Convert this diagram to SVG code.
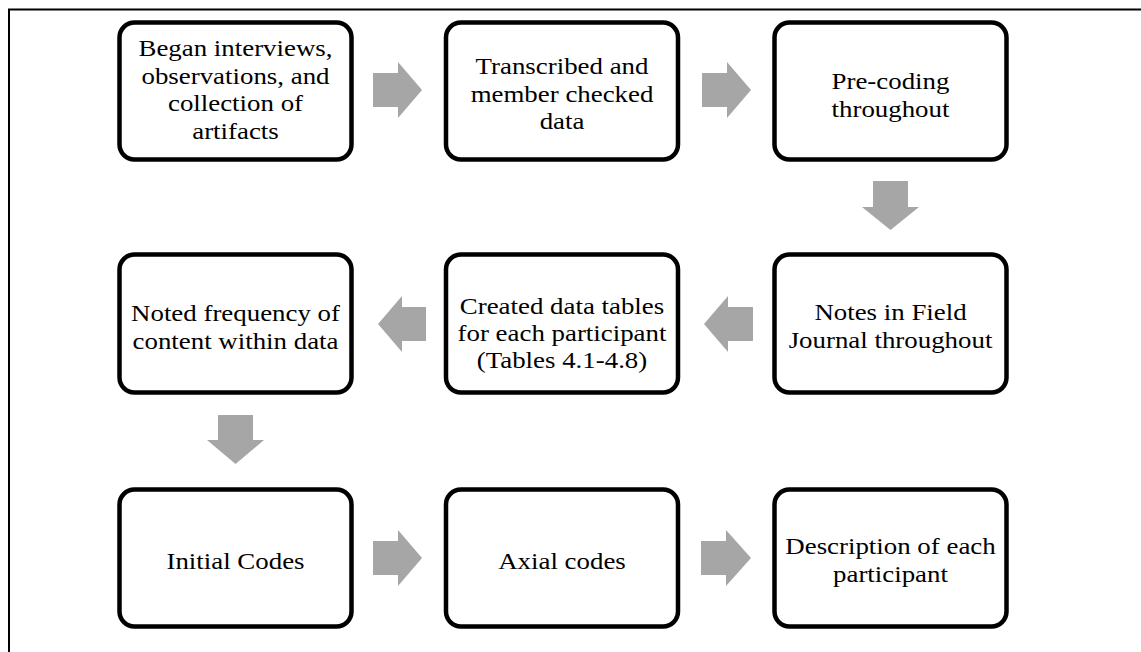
<svg xmlns="http://www.w3.org/2000/svg" width="1141" height="652" viewBox="0 0 1141 652">
<style>
.box{fill:#fff;stroke:#000;stroke-width:4.5}
.arr{fill:#a6a6a6}
.t{font-family:"Liberation Serif","Times New Roman",serif;font-size:24px;fill:#000;text-anchor:middle}
.frame{fill:none;stroke:#000;stroke-width:2}
</style>
<rect x="0" y="0" width="1141" height="652" fill="#fff"/>
<rect class="frame" x="9" y="9.5" width="1200" height="700"/>
<g id="connectors">
<polygon class="arr" points="373,73 398,73 398,62 422,90 398,118 398,107 373,107"/>
<polygon class="arr" points="702,73 727,73 727,62 751,90 727,118 727,107 702,107"/>
<polygon class="arr" points="873,181 908,181 908,207 919,207 890.5,230 862,207 873,207"/>
<polygon class="arr" points="753,307 728,307 728,296 704,324 728,352 728,341 753,341"/>
<polygon class="arr" points="426,307 402,307 402,296 378,324 402,352 402,341 426,341"/>
<polygon class="arr" points="218,415 253,415 253,440 264,440 235.5,464 207,440 218,440"/>
<polygon class="arr" points="373,541 398,541 398,530 422,558 398,586 398,575 373,575"/>
<polygon class="arr" points="701,541 726,541 726,530 751,558 726,586 726,575 701,575"/>
</g>
<g id="n1">
<rect class="box" x="119.5" y="22.5" width="232" height="137" rx="15"/>
<text class="t" transform="translate(235.5 0) scale(1.12 1)"><tspan x="0" y="56">Began interviews,</tspan><tspan x="0" y="83.6">observations, and</tspan><tspan x="0" y="111.2">collection of</tspan><tspan x="0" y="138.8">artifacts</tspan></text>
</g>
<g id="n2">
<rect class="box" x="446" y="22.5" width="232" height="137" rx="15"/>
<text class="t" transform="translate(562 0) scale(1.12 1)"><tspan x="0" y="74">Transcribed and</tspan><tspan x="0" y="101.6">member checked</tspan><tspan x="0" y="129.2">data</tspan></text>
</g>
<g id="n3">
<rect class="box" x="774.5" y="22.5" width="232" height="137" rx="15"/>
<text class="t" transform="translate(890.5 0) scale(1.12 1)"><tspan x="0" y="89">Pre-coding</tspan><tspan x="0" y="116.6">throughout</tspan></text>
</g>
<g id="n4">
<rect class="box" x="774.5" y="254.5" width="232" height="138" rx="15"/>
<text class="t" transform="translate(890.5 0) scale(1.12 1)"><tspan x="0" y="320">Notes in Field</tspan><tspan x="0" y="347.6">Journal throughout</tspan></text>
</g>
<g id="n5">
<rect class="box" x="446" y="254.5" width="232" height="138" rx="15"/>
<text class="t" transform="translate(562 0) scale(1.12 1)"><tspan x="0" y="314">Created data tables</tspan><tspan x="0" y="341">for each participant</tspan><tspan x="0" y="368">(Tables 4.1-4.8)</tspan></text>
</g>
<g id="n6">
<rect class="box" x="119.5" y="254.5" width="232" height="138" rx="15"/>
<text class="t" transform="translate(235.5 0) scale(1.12 1)"><tspan x="0" y="321">Noted frequency of</tspan><tspan x="0" y="348.6">content within data</tspan></text>
</g>
<g id="n7">
<rect class="box" x="119.5" y="489.5" width="232" height="137" rx="15"/>
<text class="t" transform="translate(235.5 0) scale(1.12 1)"><tspan x="0" y="569">Initial Codes</tspan></text>
</g>
<g id="n8">
<rect class="box" x="446" y="489.5" width="232" height="137" rx="15"/>
<text class="t" transform="translate(562 0) scale(1.12 1)"><tspan x="0" y="569">Axial codes</tspan></text>
</g>
<g id="n9">
<rect class="box" x="774.5" y="489.5" width="232" height="137" rx="15"/>
<text class="t" transform="translate(890.5 0) scale(1.12 1)"><tspan x="0" y="554">Description of each</tspan><tspan x="0" y="581.6">participant</tspan></text>
</g>
</svg>
